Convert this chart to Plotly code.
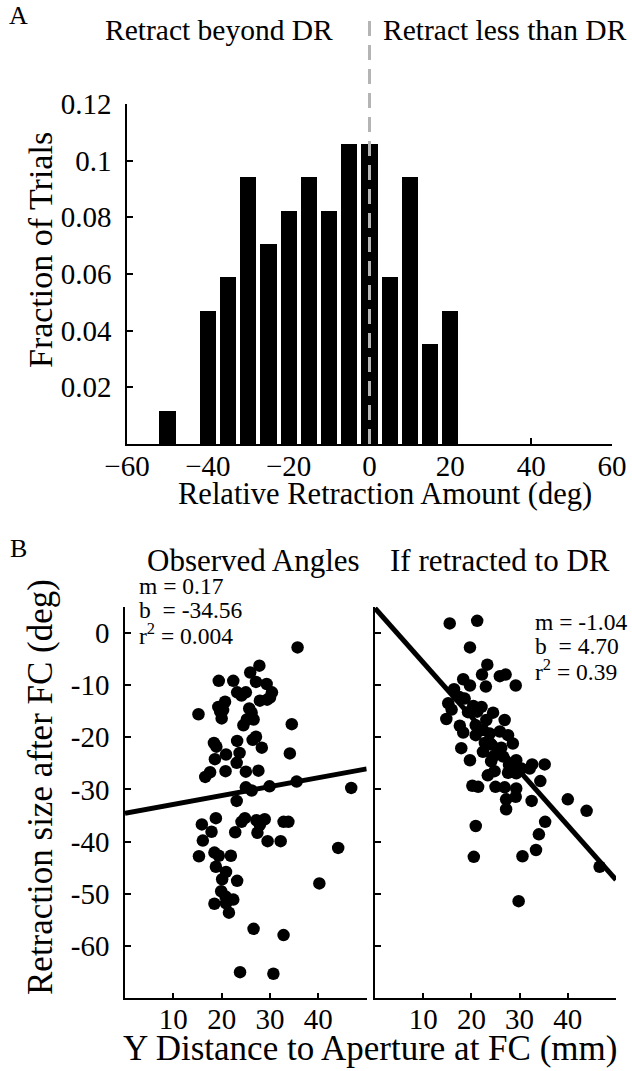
import plotly.graph_objects as go

W, H = 632, 1071
FONT = "Liberation Serif"

# ---------------- Panel A data ----------------
hist_centers = [-50, -40, -35, -30, -25, -20, -15, -10, -5, 0, 5, 10, 15, 20]
hist_fraction = [0.0118, 0.0471, 0.0588, 0.0941, 0.0706, 0.0824, 0.0941,
                 0.0824, 0.1059, 0.1059, 0.0588, 0.0941, 0.0353, 0.0471]
hist_xticks = [-60, -40, -20, 0, 20, 40, 60]
hist_xticktext = ["\u221260", "\u221240", "\u221220", "0", "20", "40", "60"]
hist_yticks = [0.02, 0.04, 0.06, 0.08, 0.10, 0.12]
hist_yticktext = ["0.02", "0.04", "0.06", "0.08", "0.1", "0.12"]

# ---------------- Panel B data ----------------
obs_x = [35.7, 27.8, 25.9, 19.4, 22.4, 27.1, 29.3, 23.2, 25.0, 30.4, 20.7, 19.3,
         27.9, 29.4, 15.2, 20.3, 20.0, 26.2, 26.6, 25.2, 24.5, 34.5, 27.1, 26.4,
         18.4, 18.9, 23.2, 28.3, 20.9, 23.7, 18.6, 23.1, 34.1, 16.6, 17.6, 20.8,
         25.0, 27.6, 29.9, 25.0, 26.2, 35.5, 46.8, 23.1, 24.8, 24.1, 27.2, 28.9,
         27.9, 27.4, 29.5, 32.8, 33.8, 32.2, 18.8, 15.9, 17.9, 22.8, 16.1, 15.3,
         18.5, 19.4, 21.9, 18.8, 20.9, 20.1, 23.2, 19.9, 20.8, 22.4, 18.5, 20.9,
         21.5, 44.1, 40.2, 26.6, 32.8, 23.8, 30.7, 30.0, 24.1, 19.7, 25.7]
obs_y = [-2.8, -6.3, -7.6, -9.2, -9.2, -9.4, -9.8, -11.4, -11.4, -11.4, -13.2, -14.2,
         -13.0, -12.8, -15.6, -14.8, -16.4, -15.3, -16.6, -16.6, -17.7, -17.5, -19.9, -20.5,
         -21.1, -21.8, -20.7, -22.0, -23.3, -23.0, -24.2, -24.9, -23.1, -27.6, -26.7, -26.5,
         -26.6, -26.4, -29.4, -29.6, -30.2, -28.5, -29.7, -32.2, -35.5, -36.2, -35.9, -35.7,
         -36.8, -38.3, -39.9, -36.2, -36.2, -39.9, -35.5, -36.7, -38.1, -38.2, -39.8, -42.8,
         -42.1, -42.7, -42.7, -44.8, -45.8, -47.2, -47.5, -49.5, -50.5, -51.1, -51.9, -51.8,
         -53.6, -41.2, -48.0, -56.7, -57.9, -65.0, -65.3, -12.4, -12.0, -15.1, -14.5]

dr_x = [15.5, 21.2, 19.7, 23.3, 22.2, 25.9, 27.1, 29.2, 23.0, 18.3, 19.7, 16.4,
        17.5, 15.2, 15.9, 14.8, 18.6, 20.4, 22.1, 19.3, 21.2, 24.5, 23.1, 26.9,
        17.6, 18.3, 20.9, 22.4, 20.9, 23.8, 25.9, 27.6, 28.6, 17.9, 22.8, 24.1,
        22.4, 26.2, 24.5, 26.6, 29.3, 19.7, 27.8, 30.4, 32.1, 32.6, 35.2, 24.8,
        23.4, 27.6, 34.3, 20.2, 21.4, 25.0, 26.9, 29.3, 27.2, 29.2, 27.2, 32.5,
        40.0, 43.9, 35.3, 34.0, 33.4, 20.9, 20.5, 30.6, 46.6, 29.8, 25.5, 24.1, 29.3]
dr_y = [1.8, 2.3, -2.8, -6.1, -8.0, -8.3, -8.0, -10.1, -10.3, -8.9, -10.1, -10.8,
        -12.3, -13.5, -14.7, -16.5, -12.6, -14.0, -14.2, -15.2, -15.1, -15.3, -16.7, -16.7,
        -17.8, -19.1, -17.7, -18.6, -19.6, -19.3, -18.9, -19.6, -21.2, -22.1, -21.1, -21.4,
        -22.8, -22.0, -23.7, -23.7, -24.4, -24.4, -25.3, -26.0, -26.0, -25.2, -25.2, -26.5,
        -27.3, -26.8, -28.4, -29.3, -29.5, -29.5, -29.6, -29.8, -31.9, -31.4, -33.8, -32.2,
        -31.9, -34.1, -36.2, -38.6, -41.6, -37.0, -42.9, -42.8, -44.8, -51.4, -22.5, -24.6, -26.9]

obs_fit = {"m": 0.17, "b": -34.56}
dr_fit = {"m": -1.04, "b": 4.70}
fit_x = [0, 50]

sc_xticks = [10, 20, 30, 40, 50]
sc_xticktext = ["10", "20", "30", "40", ""]
sc_yticks = [-60, -50, -40, -30, -20, -10, 0]
sc_yticktext = ["-60", "-50", "-40", "-30", "-20", "-10", "0"]


def px(x):
    return x / W


def py(y):
    return 1 - y / H


fig = go.Figure()

fig.add_trace(go.Bar(x=hist_centers, y=hist_fraction, width=4,
                     marker=dict(color="black", line=dict(width=0)),
                     xaxis="x", yaxis="y"))

fig.add_trace(go.Scatter(x=obs_x, y=obs_y, mode="markers",
                         marker=dict(color="black", size=12.5),
                         xaxis="x2", yaxis="y2"))
fig.add_trace(go.Scatter(x=fit_x, y=[obs_fit["m"] * v + obs_fit["b"] for v in fit_x],
                         mode="lines", line=dict(color="black", width=5),
                         xaxis="x2", yaxis="y2"))

fig.add_trace(go.Scatter(x=dr_x, y=dr_y, mode="markers",
                         marker=dict(color="black", size=12.5),
                         xaxis="x3", yaxis="y3"))
fig.add_trace(go.Scatter(x=fit_x, y=[dr_fit["m"] * v + dr_fit["b"] for v in fit_x],
                         mode="lines", line=dict(color="black", width=5),
                         xaxis="x3", yaxis="y3"))

TICKF = dict(family=FONT, size=29, color="black")
axis_common = dict(showline=True, linecolor="black", linewidth=1.5, ticks="inside",
                   ticklen=6, tickcolor="black", tickwidth=1.5, showgrid=False,
                   zeroline=False, tickfont=TICKF, mirror=False, automargin=False)

fig.update_layout(
    width=W, height=H, margin=dict(l=0, r=0, t=0, b=0),
    paper_bgcolor="white", plot_bgcolor="white", showlegend=False,
    bargap=0,
    xaxis=dict(domain=[px(127), px(612)], anchor="y", range=[-60, 60],
               tickvals=hist_xticks, ticktext=hist_xticktext, ticklabelstandoff=-5,
               **axis_common),
    yaxis=dict(domain=[py(444), py(104)], anchor="x", range=[0, 0.12],
               tickvals=hist_yticks, ticktext=hist_yticktext, ticklabelstandoff=8,
               **axis_common),
    xaxis2=dict(domain=[px(125), px(366.7)], anchor="y2", range=[0, 50],
                tickvals=sc_xticks, ticktext=sc_xticktext, ticklabelstandoff=-6,
                **axis_common),
    yaxis2=dict(domain=[py(998.3), py(606.7)], anchor="x2", range=[-70, 5],
                tickvals=sc_yticks, ticktext=sc_yticktext, ticklabelstandoff=8,
                **axis_common),
    xaxis3=dict(domain=[px(375), px(616)], anchor="y3", range=[0, 50],
                tickvals=sc_xticks, ticktext=sc_xticktext, ticklabelstandoff=-6,
                **axis_common),
    yaxis3=dict(domain=[py(998.3), py(606.7)], anchor="x3", range=[-70, 5],
                tickvals=sc_yticks, showticklabels=False, **axis_common),
)

fig.add_shape(type="line", xref="x", yref="paper", x0=0, x1=0,
              y0=py(444), y1=py(18),
              line=dict(color="#b4b4b4", width=3, dash="15px,9px"))


def ann(text, x, y, size, xanchor="center", angle=0):
    fig.add_annotation(text=text, x=px(x), y=py(y), xref="paper", yref="paper",
                       showarrow=False, xanchor=xanchor, yanchor="middle",
                       textangle=angle, borderpad=0,
                       font=dict(family=FONT, size=size, color="black"))


NB = "\u00a0"
ann("A", 18, 16, 26)
ann("Retract beyond DR", 219, 30, 29.5)
ann("Retract less than DR", 505, 30, 29.5)
ann("Relative Retraction Amount (deg)", 385, 494, 30.5)
ann("Fraction of Trials", 40, 250, 34, angle=-90)

ann("B", 18, 548, 26)
ann("Observed Angles", 253, 560, 31)
ann("If retracted to DR", 500, 560, 31)
ann("m = 0.17", 138, 586, 23.5, xanchor="left")
ann("b" + NB + NB + "= -34.56", 138, 610, 23.5, xanchor="left")
ann("r<sup>2</sup> = 0.004", 138, 634, 23.5, xanchor="left")
ann("m = -1.04", 534, 622, 23.5, xanchor="left")
ann("b" + NB + NB + "= 4.70", 534, 646, 23.5, xanchor="left")
ann("r<sup>2</sup> = 0.39", 534, 670, 23.5, xanchor="left")
ann("Retraction size after FC (deg)", 40, 787, 35, angle=-90)
ann("Y Distance to Aperture at FC (mm)", 370, 1048, 35)

fig.write_html("out.html")
